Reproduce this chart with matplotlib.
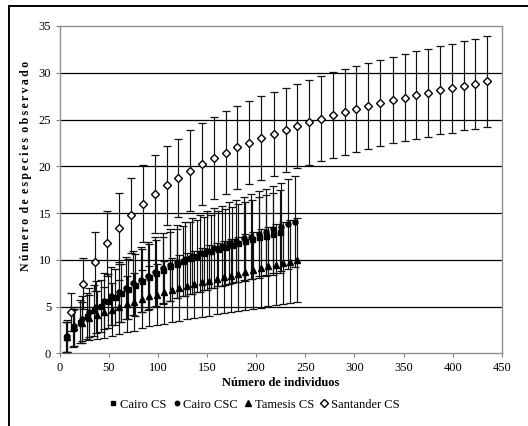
import matplotlib
matplotlib.use("Agg")
import matplotlib.pyplot as plt
from matplotlib.lines import Line2D
from matplotlib.patches import Rectangle

# ---------------- data ----------------
cs_x = [7, 14, 21, 28, 35, 42, 49, 56, 63, 70, 77, 84, 91, 98, 105, 112, 119, 126,
        133, 140, 147, 154, 161, 168, 175, 182, 189, 196, 203, 210, 217, 224]
cs_y = [1.8, 2.7, 3.4, 4.0, 4.6, 5.1, 5.6, 6.0, 6.5, 6.9, 7.3, 7.8, 8.2, 8.6, 8.9,
        9.3, 9.6, 9.9, 10.2, 10.4, 10.7, 10.9, 11.2, 11.4, 11.6, 11.8, 12.0, 12.2,
        12.4, 12.6, 12.8, 13.0]
cs_sd = [1.6, 2.0, 2.3, 2.5, 2.7, 2.8, 2.9, 3.0, 3.1, 3.2, 3.3, 3.4, 3.45, 3.5,
         3.6, 3.65, 3.7, 3.75, 3.8, 3.85, 3.9, 3.95, 4.0, 4.05, 4.1, 4.15, 4.2,
         4.25, 4.3, 4.35, 4.4, 4.45]

csc_x = [7.5, 15, 22.5, 30, 37.5, 45, 52.5, 60, 67.5, 75, 82.5, 90, 97.5, 105,
         112.5, 120, 127.5, 135, 142.5, 150, 157.5, 165, 172.5, 180, 187.5, 195,
         202.5, 210, 217.5, 225, 232.5, 240]
csc_y = [1.9, 2.9, 3.7, 4.4, 5.0, 5.6, 6.1, 6.6, 7.0, 7.5, 7.9, 8.3, 8.7, 9.1,
         9.5, 9.8, 10.1, 10.4, 10.7, 11.0, 11.3, 11.5, 11.8, 12.0, 12.3, 12.5,
         12.8, 13.0, 13.3, 13.5, 13.8, 14.1]
csc_sd = [1.7, 2.1, 2.4, 2.6, 2.8, 2.95, 3.1, 3.2, 3.3, 3.4, 3.5, 3.6, 3.7, 3.75,
          3.85, 3.9, 4.0, 4.05, 4.1, 4.2, 4.25, 4.3, 4.35, 4.4, 4.45, 4.5, 4.55,
          4.6, 4.65, 4.7, 4.8, 4.85]

tam_x = [7.3, 14.7, 22.6, 30.3, 37.8, 45.6, 53, 60.5, 68.3, 75.8, 83.6, 91, 99,
         106.3, 114, 121.6, 129.4, 136.8, 144.6, 152, 159.9, 167.3, 174.5, 181.5,
         189, 196.9, 204.6, 212.3, 219.9, 227.7, 234.5, 241.9]
tam_y = [1.8, 2.8, 3.3, 3.8, 4.1, 4.4, 4.7, 5.0, 5.3, 5.5, 5.8, 6.1, 6.3, 6.55,
         6.8, 7.0, 7.2, 7.4, 7.6, 7.8, 8.0, 8.15, 8.3, 8.5, 8.7, 8.9, 9.1, 9.3,
         9.5, 9.65, 9.8, 9.95]
tam_sd = [1.6, 2.0, 2.2, 2.4, 2.6, 2.7, 2.8, 2.9, 3.0, 3.05, 3.1, 3.2, 3.3, 3.35,
          3.4, 3.5, 3.55, 3.6, 3.7, 3.75, 3.8, 3.85, 3.9, 4.0, 4.05, 4.1, 4.2,
          4.25, 4.3, 4.4, 4.45, 4.5]

san_x = [12, 24, 36, 48, 60, 73, 85, 97, 109, 121, 133, 145, 157, 169, 181, 193,
         205, 218, 230, 242, 254, 266, 278, 290, 302, 314, 326, 339, 351, 363,
         375, 387, 399, 411, 423, 435]
san_y = [4.44, 7.47, 9.83, 11.76, 13.4, 14.75, 16.0, 17.04, 17.97, 18.76, 19.54,
         20.26, 20.86, 21.47, 22.03, 22.54, 23.0, 23.47, 23.9, 24.33, 24.71,
         25.1, 25.46, 25.78, 26.15, 26.47, 26.75, 27.07, 27.32, 27.6, 27.86,
         28.14, 28.35, 28.61, 28.82, 29.07]
san_sd = [2.0, 2.7, 3.2, 3.5, 3.8, 4.0, 4.1, 4.15, 4.25, 4.2, 4.3, 4.4, 4.4,
          4.45, 4.45, 4.46, 4.5, 4.52, 4.5, 4.5, 4.54, 4.57, 4.6, 4.6, 4.6, 4.6,
          4.6, 4.62, 4.66, 4.69, 4.71, 4.7, 4.77, 4.76, 4.82, 4.85]

series_names = ["Cairo CS", "Cairo CSC", "Tamesis CS", "Santander CS"]
x_ticks = [0, 50, 100, 150, 200, 250, 300, 350, 400, 450]
y_ticks = [0, 5, 10, 15, 20, 25, 30, 35]
x_label = "Número de individuos"
y_label = "Número de especies observado"

# ---------------- style ----------------
serif = ["Liberation Serif", "DejaVu Serif"]
plt.rcParams["font.family"] = serif
FS = 9

fig = plt.figure(figsize=(5.28, 4.26), dpi=100)
ax = fig.add_axes([0.1127, 0.1702, 0.838, 0.7688])

ax.set_xlim(0, 450)
ax.set_ylim(0, 35)
ax.set_xticks(x_ticks)
ax.set_yticks(y_ticks)
ax.tick_params(axis="both", labelsize=FS, direction="out", length=3,
               width=0.8, color="#808080", pad=3)
for s in ax.spines.values():
    s.set_color("#909090")
    s.set_linewidth(1.0)

for gy in y_ticks[1:-1]:
    ax.axhline(gy, color="#000000", lw=0.9, zorder=1)

specs = [
    (cs_x, cs_y, cs_sd, dict(marker="s", ms=3.6, mfc="black", mec="black")),
    (csc_x, csc_y, csc_sd, dict(marker="o", ms=3.6, mfc="black", mec="black")),
    (tam_x, tam_y, tam_sd, dict(marker="^", ms=5.0, mfc="black", mec="black")),
    (san_x, san_y, san_sd, dict(marker="D", ms=4.2, mfc="white", mec="black",
                                mew=1.0)),
]
for xs, ys, sd, mk in specs:
    ax.errorbar(xs, ys, yerr=sd, fmt="none", ecolor="#111111", elinewidth=0.85,
                capsize=3.0, capthick=0.9, zorder=3)
    ax.plot(xs, ys, linestyle="none", zorder=4, **mk)

ax.set_xlabel(x_label, labelpad=2, fontsize=FS, fontweight="bold", family=serif)
spaced = " \u2009".join("\u2009".join(w) for w in y_label.split(" "))
ax.set_ylabel(spaced, fontsize=8.5, fontweight="bold", family=serif)
ax.yaxis.set_label_coords(-0.062, 0.5725)

handles = [
    Line2D([], [], linestyle="none", marker="s", ms=3.2, mfc="black", mec="black"),
    Line2D([], [], linestyle="none", marker="o", ms=3.2, mfc="black", mec="black"),
    Line2D([], [], linestyle="none", marker="^", ms=4.5, mfc="black", mec="black"),
    Line2D([], [], linestyle="none", marker="D", ms=3.6, mfc="white", mec="black",
           mew=1.0),
]
fig.legend(handles, series_names, loc="center", bbox_to_anchor=(0.483, 0.05),
           ncol=4, frameon=False, fontsize=FS, handlelength=0.5,
           handletextpad=0.3, columnspacing=0.55, borderpad=0.1)

# outer frame of the chart area
fig.patches.append(Rectangle((9 / 528, -0.2), 1.5, 0.2 + 1 - 6 / 426,
                             transform=fig.transFigure, fill=False,
                             edgecolor="black", lw=1.4))

fig.savefig("out.png", dpi=100, facecolor="white")
